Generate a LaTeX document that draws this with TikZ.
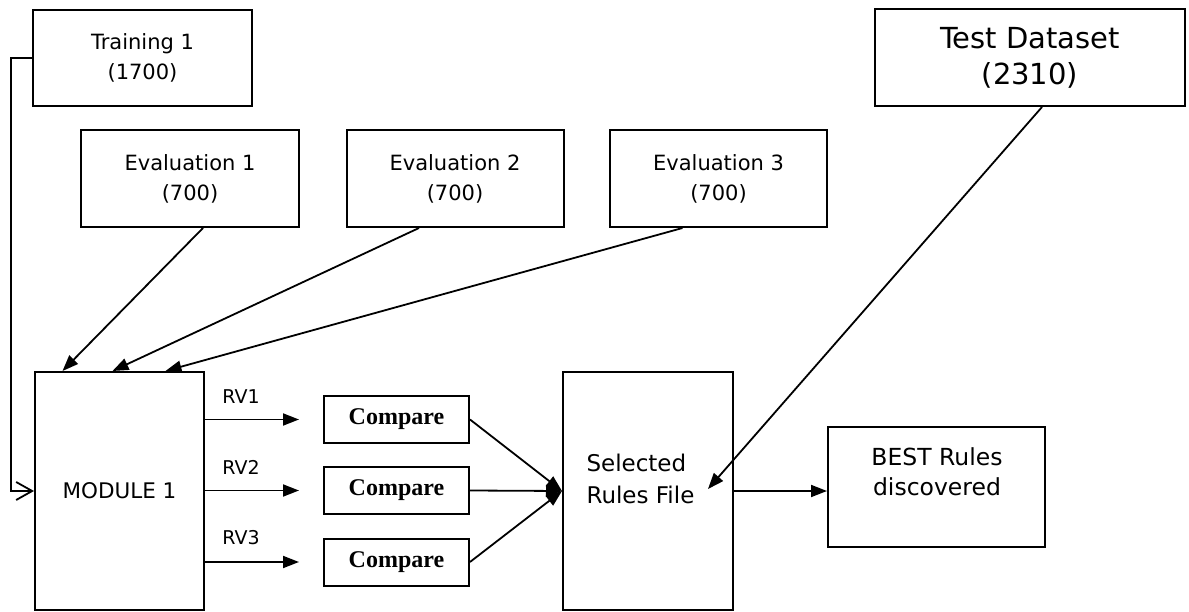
\documentclass[tikz,border=0pt]{standalone}
\usepackage{fontspec}
\setmainfont{DejaVu Sans}
\newfontfamily\cmpfont{Liberation Serif}
\usetikzlibrary{arrows.meta}

\begin{document}
\begin{tikzpicture}[x=1pt, y=-1pt,
    box/.style={draw, line width=2pt, inner sep=0pt},
    txt/.style={align=center, font=\fontsize{21}{30}\selectfont},
    cmp/.style={box, minimum width=145pt, minimum height=47pt,
      font=\cmpfont\bfseries\fontsize{24}{26}\selectfont},
    rv/.style={font=\fontsize{19}{22}\selectfont},
    arr/.style={line width=1.8pt, -{Triangle[length=16pt,width=12pt]}},
    back/.style={line width=1.8pt, -{Straight Barb[length=16pt,width=18pt]}}]
    \useasboundingbox (0,0) rectangle (1189,612);

    % Top row: data sets
    \node[box, txt, minimum width=219pt, minimum height=96pt] (train) at (142.5,58) {Training 1\\(1700)};
    \node[box, txt, minimum width=218pt, minimum height=97pt] (ev1) at (190,178.5) {Evaluation 1\\(700)};
    \node[box, txt, minimum width=217pt, minimum height=97pt] (ev2) at (455,178.5) {Evaluation 2\\(700)};
    \node[box, txt, minimum width=217pt, minimum height=97pt] (ev3) at (718.5,178.5) {Evaluation 3\\(700)};
    \node[box, txt, font=\fontsize{29}{36}\selectfont, minimum width=310pt, minimum height=97pt] (test) at (1030,57.5) {Test Dataset\\(2310)};

    % Bottom row: module, comparisons, result
    \node[box, txt, font=\fontsize{21.5}{25}\selectfont, minimum width=169pt, minimum height=238pt] (mod) at (119.5,491) {MODULE 1};

    \node[rv] (rv1) at (241,397) {RV1};
    \node[rv] (rv2) at (241,467) {RV2};
    \node[rv] (rv3) at (241,538) {RV3};

    \node[cmp] (cmp1) at (396.5,419.5) {Compare};
    \node[cmp] (cmp2) at (396.5,490.5) {Compare};
    \node[cmp] (cmp3) at (396.5,562) {Compare};

    \node[box, minimum width=170pt, minimum height=238pt] (sel) at (648,491) {};
    \node[txt, align=left, anchor=west, font=\fontsize{23}{32}\selectfont] (seltxt) at (583,479) {Selected\\Rules File};

    \node[box, minimum width=217pt, minimum height=120pt] (best) at (936.5,487) {};
    \node[txt, font=\fontsize{23.5}{30}\selectfont] (besttxt) at (937,472) {BEST Rules\\discovered};

    % Connectors
    \draw[back] (train.west) -- ++(-21,0) |- (mod.west);
    \draw[arr] ([xshift=13pt]ev1.south) -- ([xshift=-57pt]mod.north);
    \draw[arr] ([xshift=-36pt]ev2.south) -- ([xshift=-7pt]mod.north);
    \draw[arr] ([xshift=-36pt]ev3.south) -- ([xshift=46pt]mod.north);

    \draw[arr, shorten >=24pt] (mod.east |- cmp1.west) -- (cmp1.west);
    \draw[arr, shorten >=24pt] (mod.east |- cmp2.west) -- (cmp2.west);
    \draw[arr, shorten >=24pt] (mod.east |- cmp3.west) -- (cmp3.west);

    \draw[arr] (cmp1.east) -- (sel.west);
    \draw[arr] (cmp2.east) -- (sel.west);
    \draw[arr] (cmp3.east) -- (sel.west);

    \coordinate (hit) at (708,489);
    \draw[arr] ([xshift=12pt]test.south) -- (hit);
    \draw[arr] (sel.east) -- (sel.east -| best.west);
\end{tikzpicture}
\end{document}
